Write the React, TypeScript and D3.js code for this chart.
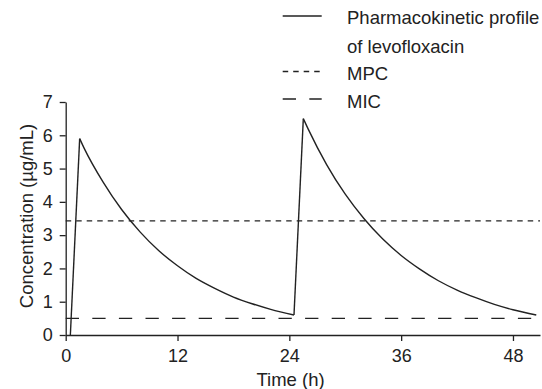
import * as d3 from "d3";
import { useEffect, useRef } from "react";

// levofloxacin concentration (hours, µg/mL)
const times = [0.5, 1.5, 2, 4, 6, 8, 10, 12, 14, 16, 18, 20, 22, 24.5, 25.5, 26, 28, 30, 32, 34, 36, 38, 40, 42, 44, 46, 48, 50.5];
const concentrations = [0, 5.9, 5.6, 4.6, 3.77, 3.09, 2.53, 2.08, 1.7, 1.4, 1.14, 0.94, 0.77, 0.6, 6.5, 6.2, 5.12, 4.23, 3.5, 2.89, 2.39, 1.98, 1.63, 1.35, 1.12, 0.92, 0.76, 0.6];
const mpc = 3.43;
const mic = 0.5;
const xTicks = [0, 12, 24, 36, 48];
const yTicks = [0, 1, 2, 3, 4, 5, 6, 7];
const legendLabels = [["Pharmacokinetic profile", "of levofloxacin"], ["MPC"], ["MIC"]];

const font = "'Liberation Sans', Arial, sans-serif";
const ink = "#222";

function drawChart(node: SVGSVGElement) {
  const svg = d3.select(node);
  svg.selectAll("*").remove();

  const x = d3.scaleLinear().domain([0, 50.9]).range([65.7, 540]);
  const y = d3.scaleLinear().domain([0, 7]).range([335, 102]);
  const tEnd = 50.9;

  // x axis
  const xAxis = svg
    .append("g")
    .attr("transform", `translate(0,${y(0)})`)
    .call(d3.axisBottom(x).tickValues(xTicks).tickSize(6).tickSizeOuter(0).tickPadding(8));
  // y axis
  const yAxis = svg
    .append("g")
    .attr("transform", `translate(${x(0)},0)`)
    .call(
      d3
        .axisLeft(y)
        .tickValues(yTicks)
        .tickFormat(d3.format("d"))
        .tickSize(6)
        .tickSizeOuter(0)
        .tickPadding(7)
    );

  [xAxis, yAxis].forEach((a) => {
    a.selectAll("path, line").attr("stroke", ink).attr("stroke-width", 1.3);
    a.selectAll("text")
      .attr("fill", ink)
      .style("font-family", font)
      .style("font-size", "18px");
  });

  // MPC and MIC reference lines
  [
    [mpc, "5.5,5"],
    [mic, "13.3,13.3"],
  ].forEach(([v, dash]) => {
    svg
      .append("line")
      .attr("x1", x(0))
      .attr("x2", x(tEnd))
      .attr("y1", y(v as number))
      .attr("y2", y(v as number))
      .attr("stroke", ink)
      .attr("stroke-width", 1.3)
      .attr("stroke-dasharray", dash as string);
  });

  // pharmacokinetic profile: straight rise after each dose, smooth decay
  const points = times.map((t, i) => [t, concentrations[i]] as [number, number]);
  const line = d3
    .line<[number, number]>()
    .x((d) => x(d[0]))
    .y((d) => y(d[1]));
  const drawPath = (pts: [number, number][], curve: d3.CurveFactory) =>
    svg
      .append("path")
      .attr("d", line.curve(curve)(pts))
      .attr("fill", "none")
      .attr("stroke", ink)
      .attr("stroke-width", 1.4)
      .attr("stroke-linejoin", "round");

  let start = 0;
  for (let i = 1; i < points.length; i++) {
    if (points[i][1] > points[i - 1][1]) {
      drawPath([points[i - 1], points[i]], d3.curveLinear);
      start = i;
    } else if (i === points.length - 1 || points[i + 1][1] > points[i][1]) {
      drawPath(points.slice(start, i + 1), d3.curveMonotoneX);
    }
  }

  // axis titles
  svg
    .append("text")
    .attr("x", 290.5)
    .attr("y", 386)
    .attr("text-anchor", "middle")
    .attr("fill", ink)
    .style("font-family", font)
    .style("font-size", "18.5px")
    .text("Time (h)");
  svg
    .append("text")
    .attr("transform", "translate(33,216) rotate(-90)")
    .attr("text-anchor", "middle")
    .attr("fill", ink)
    .style("font-family", font)
    .style("font-size", "18.5px")
    .text("Concentration (µg/mL)");

  // legend
  const dashes = [null, "5.5,5", "13.3,13.3"];
  const lineY = [16, 71.5, 99];
  const textY = [24, 80, 107.5];
  legendLabels.forEach((labels, i) => {
    svg
      .append("line")
      .attr("x1", 282.7)
      .attr("x2", 321.7)
      .attr("y1", lineY[i])
      .attr("y2", lineY[i])
      .attr("stroke", ink)
      .attr("stroke-width", 1.3)
      .attr("stroke-dasharray", dashes[i] as any);
    labels.forEach((lbl, j) => {
      svg
        .append("text")
        .attr("x", 347)
        .attr("y", textY[i] + j * 28.5)
        .attr("fill", ink)
        .style("font-family", font)
        .style("font-size", "18.5px")
        .text(lbl);
    });
  });
}

export default function App() {
  const ref = useRef<SVGSVGElement>(null);
  useEffect(() => {
    if (ref.current) drawChart(ref.current);
  }, []);
  return (
    <svg
      ref={ref}
      width={542}
      height={389}
      style={{ position: "absolute", left: 0, top: 0, background: "white" }}
    ></svg>
  );
}
